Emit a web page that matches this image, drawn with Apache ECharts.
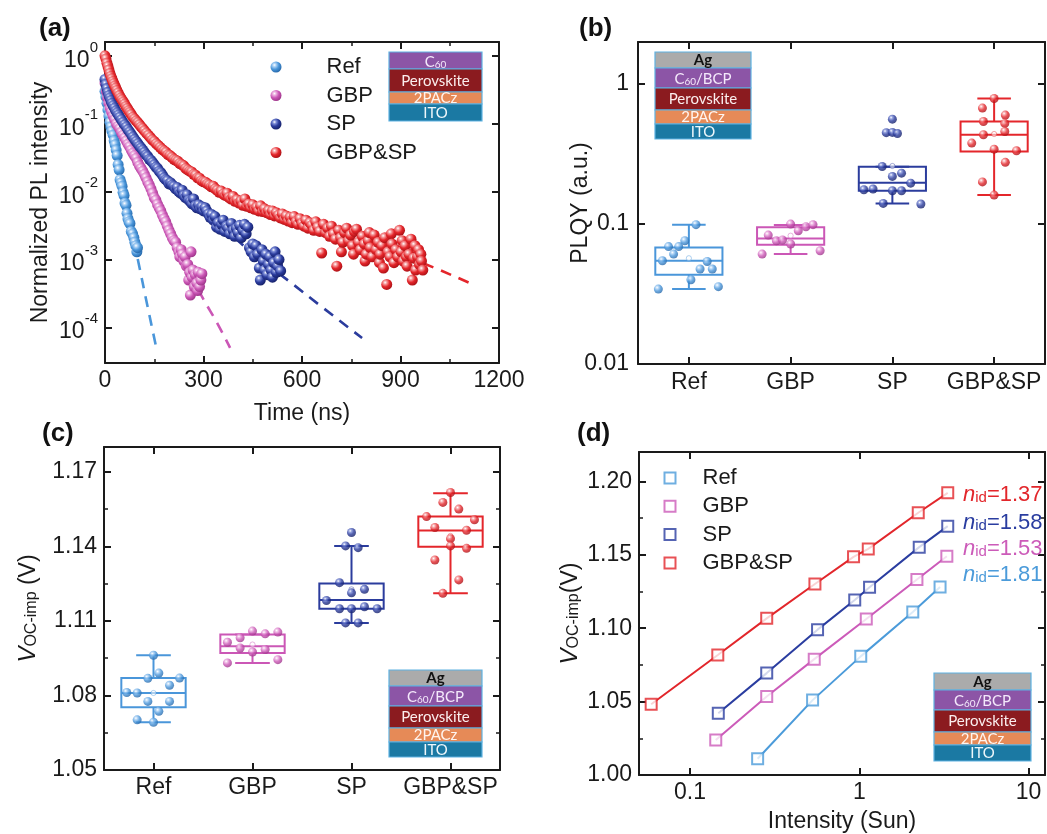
<!DOCTYPE html>
<html><head><meta charset="utf-8">
<script src="https://cdn.jsdelivr.net/npm/echarts@6/dist/echarts.min.js"></script>
<style>html,body{margin:0;padding:0;background:#fff}#c{width:1047px;height:834px}</style>
</head><body><div id="c"></div>
<script>
// ---------------- DATA ----------------
const categories = ['Ref', 'GBP', 'SP', 'GBP&SP'];
// (a) TRPL decay: [time ns, normalized intensity]
const plRef = [[0,0.30],[3,0.25],[6,0.2],[9,0.16],[12,0.13],[15,0.105],[18,0.09],[21,0.078],[25,0.068],[28,0.056],[31,0.049],[34,0.041],[37,0.034],[40,0.025],[43,0.021],[46,0.015],[49,0.0135],[52,0.012],[55,0.0098],[58,0.0088],[61,0.0068],[64,0.0063],[67,0.0048],[70,0.004],[73,0.0036],[76,0.0034],[80,0.0026],[84,0.0024],[88,0.0021],[91,0.0018],[94,0.0016],[97,0.0013],[99,0.0015]];
const plGBP = [[0,0.4],[4,0.3],[8,0.24],[12,0.2],[16,0.17],[20,0.15],[25,0.13],[30,0.115],[35,0.1],[40,0.092],[45,0.085],[50,0.075],[55,0.068],[60,0.062],[65,0.056],[70,0.05],[75,0.046],[80,0.041],[85,0.037],[90,0.034],[95,0.031],[100,0.027],[105,0.024],[110,0.022],[115,0.02],[120,0.018],[125,0.016],[130,0.014],[135,0.0125],[140,0.011],[145,0.0095],[150,0.0082],[155,0.0075],[160,0.0065],[165,0.0058],[170,0.0052],[175,0.0045],[180,0.004],[185,0.0036],[190,0.0031],[195,0.0027],[200,0.0024],[205,0.0021],[210,0.0019],[215,0.0018],[220,0.0015],[225,0.0013],[228,0.0011],[232,0.0014],[236,0.0012],[240,0.00095],[244,0.0011],[248,0.0008],[252,0.00085],[255,0.0005],[258,0.00065],[260,0.0003],[262,0.0013],[265,0.00055],[268,0.0007],[272,0.0004],[275,0.0006],[280,0.00045],[282,0.00035],[284,0.00065],[288,0.0004],[292,0.0005],[295,0.00062]];
const plSP = [[0,0.45],[3,0.38],[6,0.33],[9,0.29],[12,0.26],[15,0.24],[18,0.22],[21,0.2],[25,0.185],[29,0.17],[33,0.155],[37,0.145],[41,0.135],[45,0.125],[50,0.115],[55,0.105],[60,0.097],[65,0.09],[70,0.082],[75,0.076],[80,0.07],[85,0.064],[90,0.059],[95,0.055],[100,0.051],[105,0.047],[110,0.044],[115,0.041],[120,0.038],[125,0.035],[130,0.033],[135,0.03],[140,0.029],[145,0.027],[150,0.025],[155,0.023],[160,0.022],[165,0.02],[170,0.019],[175,0.0175],[180,0.016],[185,0.015],[190,0.0145],[195,0.013],[200,0.0135],[205,0.0125],[210,0.012],[215,0.011],[220,0.0115],[225,0.01],[230,0.0095],[235,0.0105],[240,0.0088],[245,0.0082],[250,0.009],[255,0.0075],[260,0.0072],[265,0.0066],[270,0.0078],[275,0.0062],[280,0.0058],[285,0.0064],[290,0.0056],[295,0.006],[300,0.0052],[305,0.0058],[310,0.0052],[315,0.0047],[320,0.0042],[325,0.0046],[330,0.0038],[335,0.0043],[340,0.003],[345,0.0035],[350,0.0028],[355,0.0033],[360,0.0038],[365,0.0026],[370,0.0031],[375,0.0029],[380,0.0024],[385,0.0034],[390,0.0027],[395,0.0022],[400,0.0029],[405,0.0025],[410,0.0032],[415,0.0021],[420,0.0027],[425,0.0033],[430,0.0024],[435,0.003],[440,0.0015],[445,0.0013],[450,0.0017],[455,0.0011],[460,0.0016],[465,0.0012],[470,0.00075],[473,0.0005],[478,0.0014],[482,0.00095],[486,0.0007],[490,0.0012],[494,0.0006],[498,0.00085],[502,0.0011],[506,0.0007],[510,0.00055],[514,0.0009],[518,0.0013],[522,0.00065],[526,0.0008],[530,0.001],[535,0.00068]];
const plBoth = [[0,1.0],[3,0.9],[6,0.78],[9,0.7],[12,0.62],[15,0.55],[18,0.5],[21,0.46],[24,0.42],[27,0.39],[30,0.36],[33,0.335],[36,0.31],[40,0.285],[44,0.26],[48,0.24],[52,0.225],[56,0.21],[60,0.195],[64,0.18],[68,0.168],[72,0.156],[76,0.147],[80,0.137],[85,0.125],[90,0.118],[95,0.11],[100,0.104],[105,0.097],[110,0.09],[115,0.085],[120,0.079],[126,0.073],[132,0.068],[138,0.063],[144,0.058],[150,0.055],[156,0.051],[162,0.048],[168,0.045],[174,0.042],[180,0.04],[186,0.038],[192,0.035],[198,0.034],[204,0.032],[210,0.03],[216,0.029],[222,0.028],[228,0.026],[234,0.025],[240,0.024],[246,0.022],[252,0.021],[258,0.02],[264,0.0195],[270,0.018],[276,0.0175],[282,0.016],[288,0.0158],[294,0.0145],[300,0.014],[306,0.0138],[312,0.013],[318,0.0125],[324,0.0118],[330,0.012],[336,0.011],[342,0.0105],[348,0.0098],[354,0.0102],[360,0.0092],[366,0.0088],[372,0.0095],[378,0.0082],[384,0.0078],[390,0.0085],[396,0.0072],[402,0.0076],[408,0.0068],[414,0.0073],[420,0.0063],[426,0.0078],[432,0.0061],[438,0.0066],[444,0.0058],[450,0.0064],[456,0.0055],[462,0.0059],[468,0.0052],[474,0.0062],[480,0.0051],[486,0.0056],[492,0.0049],[498,0.0053],[504,0.0046],[510,0.0052],[516,0.0044],[522,0.0049],[528,0.0045],[534,0.0041],[540,0.0047],[546,0.0039],[552,0.0044],[558,0.0037],[564,0.0042],[570,0.0035],[576,0.0043],[582,0.0036],[588,0.0033],[594,0.004],[600,0.0034],[606,0.0031],[612,0.0038],[618,0.0029],[624,0.0035],[630,0.0032],[636,0.0027],[642,0.0036],[648,0.003],[654,0.0026],[660,0.00125],[666,0.0033],[672,0.0025],[678,0.0029],[684,0.0022],[690,0.0031],[696,0.0024],[702,0.002],[706,0.0008],[712,0.0027],[718,0.0021],[720,0.0013],[724,0.0018],[730,0.0025],[736,0.0029],[742,0.0019],[748,0.0023],[754,0.0016],[757,0.0012],[760,0.0026],[766,0.0028],[772,0.0018],[778,0.0014],[784,0.0022],[790,0.0017],[792,0.00095],[796,0.0012],[802,0.0019],[805,0.0025],[808,0.0015],[814,0.0011],[820,0.0023],[826,0.0014],[832,0.0018],[836,0.0009],[838,0.0012],[844,0.0016],[848,0.00075],[852,0.0021],[858,0.00043],[862,0.0013],[868,0.0011],[872,0.0024],[874,0.0017],[880,0.0009],[886,0.0014],[892,0.0011],[897,0.0027],[902,0.0013],[905,0.0019],[908,0.00095],[914,0.0016],[918,0.0011],[920,0.0008],[926,0.0012],[932,0.002],[936,0.0005],[940,0.00105],[944,0.0016],[946,0.0007],[952,0.0011],[955,0.0014],[958,0.00085],[962,0.0012],[964,0.00095],[968,0.0007]];
// (a) fitted decays
const fitRef = [[0,0.3],[15,0.1],[30,0.048],[45,0.017],[60,0.0075],[80,0.0028],[100,0.001],[130,0.0002],[158,0.000046]];
const fitGBP = [[0,0.4],[25,0.13],[50,0.075],[75,0.046],[100,0.027],[125,0.016],[150,0.0085],[175,0.0047],[200,0.0022],[250,0.00074],[300,0.00026],[340,0.00012],[381,0.00005]];
const fitSP = [[0,0.45],[50,0.11],[100,0.05],[150,0.025],[200,0.013],[250,0.0078],[300,0.0048],[350,0.0031],[400,0.002],[450,0.0012],[500,0.0008],[563,0.00047],[650,0.00022],[783,0.00007]];
const fitBoth = [[0,1.0],[30,0.36],[60,0.195],[100,0.104],[150,0.055],[200,0.033],[250,0.022],[300,0.014],[400,0.0075],[500,0.005],[600,0.0034],[700,0.0024],[800,0.0017],[900,0.00118],[1005,0.00075],[1121,0.00043]];

// (b) PLQY values and box statistics [min, q1, median, q3, max, mean]
const plqyRef = [0.099,0.076,0.069,0.069,0.061,0.0547,0.054,0.0477,0.0477,0.040,0.0343,0.0357];
const plqyGBP = [0.1,0.0896,0.0957,0.099,0.0834,0.076,0.077,0.072,0.061,0.0645];
const plqySP = [0.562,0.45,0.452,0.444,0.258,0.231,0.219,0.196,0.176,0.178,0.173,0.173,0.1405,0.139];
const plqyBoth = [0.79,0.674,0.601,0.541,0.524,0.459,0.435,0.379,0.343,0.334,0.276,0.2,0.161];
const plqyBox = [[0.0343,0.0435,0.0547,0.068,0.099,0.057],[0.061,0.0712,0.079,0.0947,0.0985,0.0826],[0.1405,0.173,0.197,0.257,0.257,0.26],[0.161,0.33,0.435,0.541,0.79,0.44]];
// horizontal scatter offsets of the points (category units)
const jitPlqy = [
  [0.07,-0.04,-0.10,-0.20,-0.15,-0.26,0.18,0.11,0.23,0.02,-0.30,0.29],
  [0,0.075,0.15,0.22,-0.22,-0.14,-0.08,0,-0.28,0.29],
  [0,-0.06,0,0.05,-0.10,0.09,0,0.18,-0.28,-0.19,0,0.09,-0.09,0.28],
  [0,-0.115,0.11,-0.105,0.105,0.105,-0.105,-0.22,0,0.22,0.11,-0.115,0]];

// (c) VOC-imp values and box statistics
const vocRef = [1.0962,1.0890,1.0869,1.0870,1.0841,1.0812,1.0810,1.0776,1.0776,1.0736,1.0702,1.0692];
const vocGBP = [1.1059,1.1048,1.1055,1.1032,1.1014,1.0991,1.0975,1.0985,1.0931,1.0944];
const vocSP = [1.1456,1.1402,1.1395,1.1254,1.1213,1.1227,1.1182,1.1149,1.1149,1.1157,1.1149,1.1092,1.1092];
const vocBoth = [1.1617,1.1577,1.1550,1.1520,1.1507,1.1476,1.1465,1.1431,1.1402,1.1392,1.1345,1.1265,1.1211];
const vocBox = [[1.0692,1.0753,1.0810,1.0870,1.0962,1.081],[1.0931,1.0971,1.0998,1.1045,1.1045,1.1005],[1.1092,1.1149,1.1184,1.1251,1.1402,1.1227],[1.1211,1.1399,1.1464,1.1520,1.1614,1.1442]];
const jitVoc = [
  [0,0.054,-0.057,0.263,0.162,-0.27,-0.165,-0.057,0.162,0.054,-0.165,0],
  [0,0.128,0.256,-0.125,-0.253,-0.125,0,0.128,-0.253,0.256],
  [0,-0.06,0.067,-0.121,0,0.131,-0.253,-0.121,0,0.131,0.259,-0.06,0.067],
  [0,-0.077,0.084,-0.242,0.242,-0.158,0.162,0,0,0.162,-0.158,0.084,-0.077]];

// (d) light-intensity dependence
const sunRef = [0.251,0.530,1.02,2.07,3.0];
const vRef = [1.0111,1.0510,1.0808,1.1110,1.1281];
const sunGBP = [0.142,0.284,0.542,1.10,2.19,3.29];
const vGBP = [1.0239,1.0535,1.0789,1.1062,1.1331,1.1490];
const sunSP = [0.147,0.284,0.567,0.94,1.15,2.26,3.33];
const vSP = [1.0421,1.0694,1.0990,1.1192,1.1279,1.1552,1.1695];
const sunBoth = [0.059,0.146,0.284,0.547,0.925,1.13,2.23,3.33];
const vBoth = [1.0482,1.0817,1.1067,1.1301,1.1486,1.1540,1.1786,1.1922];
const nidValues = ['1.37','1.58','1.53','1.81'];

// ---------------- STYLE ----------------
const FONT = '"Liberation Sans", Arial, Helvetica, sans-serif';
const INSET_FONT = 'Lato, "Open Sans", sans-serif';
const BLACK = '#1a1a1a';
const FS = 23;
const colors = ['#4a96da', '#cb57b6', '#2b3c9d', '#e4262b'];
const darks = ['#2466a8', '#9c3488', '#141f66', '#a80f14'];
const lights = ['#a9d0f5', '#ecb0e0', '#7f8fd8', '#f59a9c'];
function sphere(i) {
  return {type:'radial', x:0.36, y:0.32, r:0.72, colorStops:[
    {offset:0, color:'#ffffff'}, {offset:0.22, color:lights[i]}, {offset:0.55, color:colors[i]}, {offset:1, color:darks[i]}]};
}
function merge(a, b) {
  const r = Object.assign({}, a);
  for (const k in b) {
    if (b[k] && typeof b[k] === 'object' && !Array.isArray(b[k]) && a[k] && typeof a[k] === 'object' && !Array.isArray(a[k])) r[k] = merge(a[k], b[k]);
    else r[k] = b[k];
  }
  return r;
}
function baseAxis(extra) {
  return merge({
    axisLine:{show:true, onZero:false, lineStyle:{color:BLACK, width:2}},
    axisTick:{show:true, inside:true, length:7, lineStyle:{color:BLACK, width:2}},
    minorTick:{show:false},
    splitLine:{show:false}, minorSplitLine:{show:false},
    axisLabel:{color:BLACK, fontFamily:FONT, fontSize:FS, margin:8},
    nameTextStyle:{color:BLACK, fontFamily:FONT, fontSize:FS},
    nameLocation:'middle', nameMoveOverlap:false, silent:true
  }, extra);
}
function mirror(a, pos) { return merge(a, {position:pos, name:'', axisLabel:{show:false}}); }
const minorT = {show:true, splitNumber:2, length:4, lineStyle:{color:BLACK, width:1.5}};
function isPow10(v) { const e = Math.log10(v); return Math.abs(e - Math.round(e)) < 1e-6; }
function decLabel(v) { if (!isPow10(v)) return ''; const e = Math.round(Math.log10(v)); return e < 0 ? v.toFixed(-e) : String(Math.round(v)); }
const vocName = {rich:{v:{fontStyle:'italic', fontSize:24, fontFamily:FONT, color:BLACK, lineHeight:30, verticalAlign:'bottom'},
  s:{fontSize:16, fontFamily:FONT, color:BLACK, lineHeight:15, verticalAlign:'bottom'},
  t:{fontSize:FS, fontFamily:FONT, color:BLACK, lineHeight:30, verticalAlign:'bottom'}}};

// axes
const aX = baseAxis({gridIndex:0, type:'value', min:0, max:1200, interval:300, position:'bottom', name:'Time (ns)', nameGap:39, minorTick:minorT, axisLabel:{margin:6, formatter:v => String(v)}});
const aY = baseAxis({gridIndex:0, type:'log', logBase:10, min:0.00003, max:1.6, position:'left', name:'Normalized PL intensity', nameGap:53,
  axisLabel:{margin:7, formatter:v => isPow10(v) ? '{b|10}{s|' + Math.round(Math.log10(v)) + '}' : '',
    rich:{b:{fontSize:FS, fontFamily:FONT, color:BLACK, lineHeight:32, verticalAlign:'bottom'}, s:{fontSize:15, fontFamily:FONT, color:BLACK, lineHeight:16, verticalAlign:'top'}}}});
const bX = baseAxis({gridIndex:1, type:'category', data:categories, position:'bottom', axisTick:{alignWithLabel:true}, axisLabel:{margin:7, interval:0}});
const bY = baseAxis({gridIndex:1, type:'log', logBase:10, min:0.01, max:2, position:'left', name:'PLQY (a.u.)', nameGap:46, axisLabel:{margin:9, formatter:decLabel}});
const cX = baseAxis({gridIndex:2, type:'category', data:categories, position:'bottom', axisTick:{alignWithLabel:true}, axisLabel:{margin:6, interval:0}});
const cY = baseAxis({gridIndex:2, type:'value', min:1.05, max:1.18, interval:0.03, position:'left', minorTick:minorT,
  name:'{v|V}{s|OC-imp}{t| (V)}', nameGap:64, axisLabel:{margin:7, showMaxLabel:false, formatter:v => v.toFixed(2)}, nameTextStyle:vocName});
const dX = baseAxis({gridIndex:3, type:'log', logBase:10, min:0.05, max:12.5, position:'bottom', name:'Intensity (Sun)', nameGap:35, axisLabel:{margin:6, formatter:decLabel}});
const dY = baseAxis({gridIndex:3, type:'value', min:1.0, max:1.22, interval:0.05, position:'left', minorTick:minorT,
  name:'{v|V}{s|OC-imp}{t|(V)}', nameGap:57, axisLabel:{margin:7, showMaxLabel:false, formatter:v => v.toFixed(2)}, nameTextStyle:vocName});
const hidden = g => ({gridIndex:g, type:'value', min:-0.5, max:3.5, show:false});

const xAxis = [aX, mirror(aX,'top'), bX, mirror(bX,'top'), hidden(1), cX, mirror(cX,'top'), hidden(2), dX, mirror(dX,'top')];
const yAxis = [aY, mirror(aY,'right'), bY, mirror(bY,'right'), cY, mirror(cY,'right'), dY, mirror(dY,'right')];

// ---------------- SERIES ----------------
const series = [];
const plSets = [plRef, plGBP, plSP, plBoth];
const fitSets = [fitRef, fitGBP, fitSP, fitBoth];
fitSets.forEach((f, i) => series.push({type:'line', name:'fit-a-' + i, xAxisIndex:0, yAxisIndex:0, data:f, symbol:'none', smooth:true, silent:true, z:1,
  lineStyle:{color:colors[i], width:2.6, type:[11, 8]}}));
plSets.forEach((d, i) => series.push({type:'scatter', name:categories[i], xAxisIndex:0, yAxisIndex:0, data:d, symbol:'circle', symbolSize:11, z:3,
  itemStyle:{color:sphere(i), opacity:1}}));

function boxRender(half, cap) {
  return function (params, api) {
    const x = api.value(0);
    const c = api.visual('color');
    const p = k => api.coord([x, api.value(k)]);
    const lo = p(1), q1 = p(2), md = p(3), q3 = p(4), hi = p(5), mn = p(6);
    const L = api.coord([x - half, api.value(3)])[0], R = api.coord([x + half, api.value(3)])[0];
    const cl = api.coord([x - cap, api.value(3)])[0], cr = api.coord([x + cap, api.value(3)])[0];
    const ls = {stroke:c, lineWidth:2, fill:null};
    return {type:'group', children:[
      {type:'rect', shape:{x:L, y:q3[1], width:R - L, height:q1[1] - q3[1]}, style:{stroke:c, lineWidth:2, fill:null}},
      {type:'line', shape:{x1:L, y1:md[1], x2:R, y2:md[1]}, style:ls},
      {type:'line', shape:{x1:lo[0], y1:lo[1], x2:q1[0], y2:q1[1]}, style:ls},
      {type:'line', shape:{x1:hi[0], y1:hi[1], x2:q3[0], y2:q3[1]}, style:ls},
      {type:'line', shape:{x1:cl, y1:lo[1], x2:cr, y2:lo[1]}, style:ls},
      {type:'line', shape:{x1:cl, y1:hi[1], x2:cr, y2:hi[1]}, style:ls},
      {type:'circle', shape:{cx:mn[0], cy:mn[1], r:2.6}, style:{stroke:c, lineWidth:0.8, fill:'#fff', opacity:0.55}}
    ]};
  };
}
function boxData(stats) { return stats.map((s, i) => ({value:[i].concat(s), itemStyle:{color:colors[i]}})); }
series.push({type:'custom', name:'box-b', xAxisIndex:4, yAxisIndex:2, renderItem:boxRender(0.33, 0.165), data:boxData(plqyBox), encode:{x:0, y:[1,2,3,4,5,6]}, z:2, silent:true});
[plqyRef, plqyGBP, plqySP, plqyBoth].forEach((vals, i) => series.push({type:'scatter', name:'PLQY ' + categories[i], xAxisIndex:4, yAxisIndex:2,
  data:vals.map((v, k) => [i + jitPlqy[i][k], v]), symbolSize:9, z:3, itemStyle:{color:sphere(i)}}));
series.push({type:'custom', name:'box-c', xAxisIndex:7, yAxisIndex:4, renderItem:boxRender(0.325, 0.175), data:boxData(vocBox), encode:{x:0, y:[1,2,3,4,5,6]}, z:2, silent:true});
[vocRef, vocGBP, vocSP, vocBoth].forEach((vals, i) => series.push({type:'scatter', name:'VOC ' + categories[i], xAxisIndex:7, yAxisIndex:4,
  data:vals.map((v, k) => [i + jitVoc[i][k], v]), symbolSize:9, z:3, itemStyle:{color:sphere(i)}}));

const dCols = ['#4b9bda', '#cc5bb9', '#2a3da0', '#e2262b'];
const sunSets = [sunRef, sunGBP, sunSP, sunBoth], vSets = [vRef, vGBP, vSP, vBoth];
sunSets.forEach((s, i) => series.push({type:'line', name:'fit-d-' + i, xAxisIndex:8, yAxisIndex:6, data:s.map((x, k) => [x, vSets[i][k]]),
  symbol:'none', silent:true, z:2, lineStyle:{color:dCols[i], width:2}}));
sunSets.forEach((s, i) => series.push({type:'scatter', name:'d:' + categories[i], xAxisIndex:8, yAxisIndex:6, data:s.map((x, k) => [x, vSets[i][k]]),
  symbol:'emptyRect', symbolSize:11, z:3, itemStyle:{color:dCols[i], borderColor:dCols[i], borderWidth:2.2}}));

// ---------------- GRAPHICS (labels, insets) ----------------
const LAY = {
  Ag:{fill:'#ababab', text:'Ag', color:'#111', bold:true},
  C60:{fill:'#8c55a6', text:'{t|C}{s|60}', color:'#f4e9fb'},
  C60BCP:{fill:'#8c55a6', text:'{t|C}{s|60}{t|/BCP}', color:'#f4e9fb'},
  Per:{fill:'#8b1b1f', text:'Perovskite', color:'#fbeeee'},
  PAC:{fill:'#e68a57', text:'2PACz', color:'#fff4ee'},
  ITO:{fill:'#1b79a3', text:'ITO', color:'#eef7fb'}
};
function stack(x, y, w, spec) {
  const ch = []; let yy = y;
  spec.forEach(([k, h]) => {
    const L = LAY[k];
    ch.push({type:'rect', z:100, shape:{x:x, y:yy, width:w, height:h}, style:{fill:L.fill, stroke:'#5fb2e2', lineWidth:1.2}});
    ch.push({type:'text', z:101, x:x + w / 2, y:yy + h / 2 + 0.5, style:{text:L.text, align:'center', verticalAlign:'middle', fill:L.color,
      fontFamily:INSET_FONT, fontSize:15, fontWeight:L.bold ? 'bold' : 'normal',
      rich:{t:{fontSize:15, fill:L.color, fontFamily:INSET_FONT, lineHeight:17, verticalAlign:'bottom'},
            s:{fontSize:10, fill:L.color, fontFamily:INSET_FONT, lineHeight:10, verticalAlign:'bottom'}}}});
    yy += h;
  });
  return {type:'group', children:ch};
}
function panelLabel(t, x, y) { return {type:'text', x:x, y:y, z:100, style:{text:t, fill:'#111', fontFamily:FONT, fontSize:26, fontWeight:'bold', align:'left', verticalAlign:'middle'}}; }
function nid(y, val, color) {
  return {type:'text', x:963, y:y, z:100, style:{text:'{n|n}{s|id}{t|=' + val + '}', align:'left', verticalAlign:'middle',
    rich:{n:{fontStyle:'italic', fontSize:22, fill:color, fontFamily:FONT, lineHeight:25, verticalAlign:'bottom'},
          s:{fontSize:15, fill:color, fontFamily:FONT, lineHeight:12, verticalAlign:'bottom'},
          t:{fontSize:22, fill:color, fontFamily:FONT, lineHeight:25, verticalAlign:'bottom'}}}};
}
const graphic = [
  panelLabel('(a)', 39, 29), panelLabel('(b)', 579, 29), panelLabel('(c)', 42, 434), panelLabel('(d)', 577, 434),
  stack(389, 52, 93, [['C60',17],['Per',23],['PAC',12],['ITO',17]]),
  stack(655, 52, 96, [['Ag',16],['C60BCP',20],['Per',22],['PAC',14],['ITO',15]]),
  stack(389, 670, 93, [['Ag',16],['C60BCP',20],['Per',22],['PAC',14],['ITO',15]]),
  stack(934, 673, 97, [['Ag',17],['C60BCP',20],['Per',22],['PAC',13],['ITO',16]]),
  nid(493, nidValues[0], dCols[3]), nid(521, nidValues[1], dCols[2]), nid(547, nidValues[2], dCols[1]), nid(573, nidValues[3], dCols[0])
];

function legendText(gap, size) {
  return {fontFamily:FONT, fontSize:size, color:BLACK,
    rich:{g:{width:gap, fontSize:size}, t:{fontFamily:FONT, fontSize:size, color:BLACK}}};
}
const option = {
  animation:false,
  backgroundColor:'#fff',
  grid:[
    {left:105, top:42, width:394, height:321, outerBoundsMode:'none', containLabel:false},
    {left:638, top:42, width:407, height:322, outerBoundsMode:'none', containLabel:false},
    {left:104, top:447, width:396, height:323, outerBoundsMode:'none', containLabel:false},
    {left:639, top:452, width:406, height:323, outerBoundsMode:'none', containLabel:false}
  ],
  legend:[
    {data:categories, formatter:n => '{g|}{t|' + n + '}', orient:'vertical', left:270.5, top:56, padding:0, itemWidth:11, itemHeight:11, itemGap:6.5, selectedMode:false,
      textStyle:legendText(40, 22)},
    {data:categories.map(c => 'd:' + c), formatter:n => '{g|}{t|' + n.slice(2) + '}', orient:'vertical', left:663.5, top:467, padding:0, itemWidth:11, itemHeight:11, itemGap:6.3, selectedMode:false,
      textStyle:legendText(22, 22)}
  ],
  xAxis:xAxis, yAxis:yAxis, series:series, graphic:graphic
};
const chart = echarts.init(document.getElementById('c'), null, {renderer:'canvas'});
chart.setOption(option);
</script></body></html>
